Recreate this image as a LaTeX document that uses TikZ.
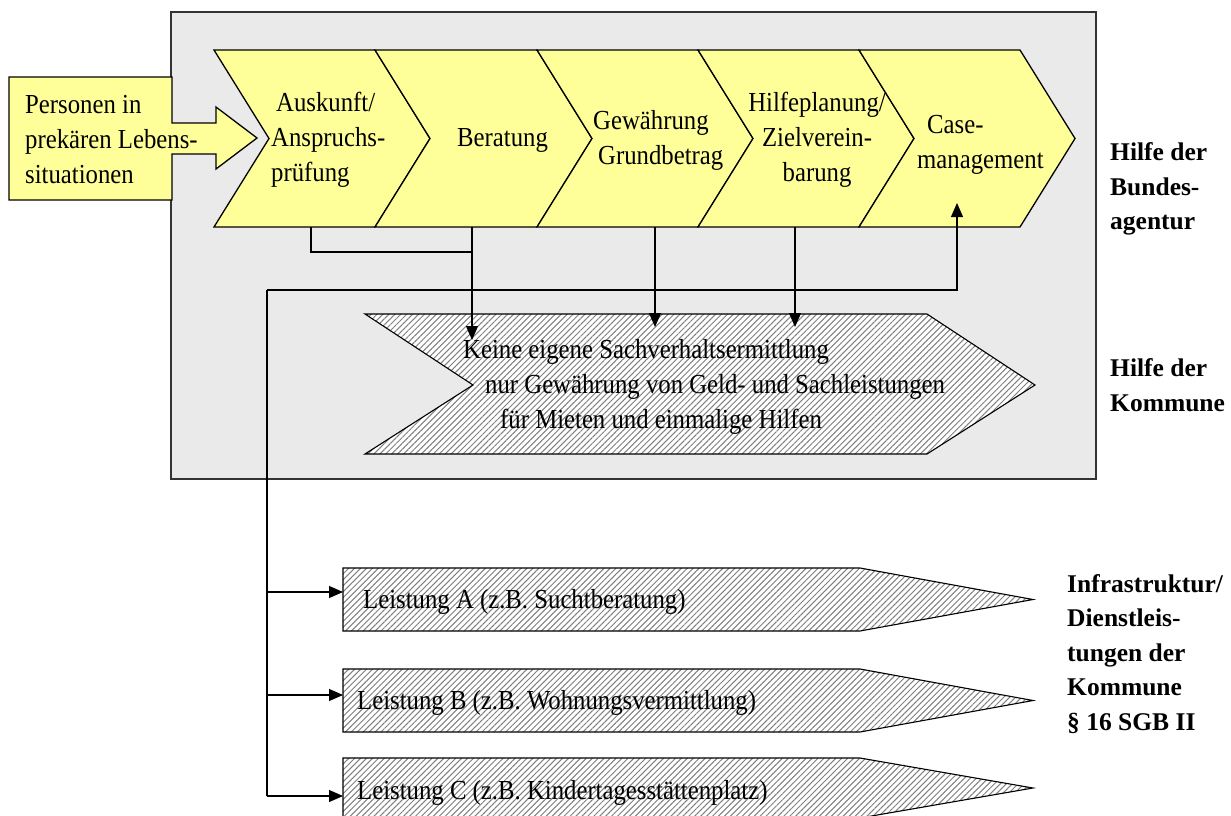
\documentclass[tikz,border=0pt]{standalone}
\usepackage{fontspec}
\setmainfont{Liberation Serif}[FakeStretch=0.9]
\newfontfamily\sidefont{Liberation Serif}
\usetikzlibrary{arrows.meta,patterns.meta}
\definecolor{boxgray}{RGB}{234,234,234}
\definecolor{chevyellow}{RGB}{255,255,153}

\begin{document}
\begin{tikzpicture}[x=1pt, y=-1pt,
    chev/.style={draw=black, line width=1.3pt, fill=chevyellow},
    hatch/.style={draw=black, line width=1.1pt, preaction={fill=white},
                  pattern={Lines[angle=45, distance=4.2pt, line width=1pt]},
                  pattern color=black!50},
    txt/.style={inner sep=0pt, align=left, anchor=west,
                font=\fontsize{27.5pt}{35pt}\selectfont},
    side/.style={inner sep=0pt, align=left, anchor=west,
                 font=\sidefont\bfseries\fontsize{25.5pt}{34.5pt}\selectfont},
    arr/.style={line width=1.1pt, -{Triangle[length=14pt, width=12pt]}},
    con/.style={line width=1.1pt}
]
    \useasboundingbox (0,0) rectangle (1231,816);

    % Rahmen Bundesagentur / Kommune
    \draw[fill=boxgray, draw=black!80, line width=1.4pt] (171,12) rectangle (1096,479);

    % Zugang
    \draw[chev] (9,77) -- (172,77) -- (172,123) -- (216,123) -- (216,107) -- (257,138)
        -- (216,169) -- (216,154) -- (172,154) -- (172,200) -- (9,200) -- cycle;
    \node[txt] (pers) at (25,140) {Personen in\\prekären Lebens-\\situationen};

    % Prozesskette
    \draw[chev] (214,50) -- (375,50) -- (430,138.5) -- (375,227) -- (214,227) -- (269,138.5) -- cycle;
    \draw[chev] (375,50) -- (537,50) -- (592,138.5) -- (537,227) -- (375,227) -- (430,138.5) -- cycle;
    \draw[chev] (537,50) -- (698,50) -- (753,138.5) -- (698,227) -- (537,227) -- (592,138.5) -- cycle;
    \draw[chev] (698,50) -- (859,50) -- (914,138.5) -- (859,227) -- (698,227) -- (753,138.5) -- cycle;
    \draw[chev] (859,50) -- (1020,50) -- (1075,138.5) -- (1020,227) -- (859,227) -- (914,138.5) -- cycle;

    \node[txt] (aus)  at (271,140) {\hspace*{5pt}Auskunft/\\Anspruchs-\\prüfung};
    \node[txt] (ber)  at (457,140) {Beratung};
    \node[txt] (gew)  at (593,140) {Gewährung\\\hspace*{5pt}Grundbetrag};
    \node[txt, anchor=center, align=center] (hilf) at (817,140) {Hilfeplanung/\\Zielverein-\\barung};
    \node[txt] (case) at (917,145) {\hspace*{10pt}Case-\\management};

    % Kommune
    \draw[hatch] (365,314) -- (927,314) -- (1035,385) -- (927,454) -- (365,454) -- (473,385) -- cycle;
    \node[txt] (keine) at (463,387) {Keine eigene Sachverhaltsermittlung\\
        \hspace*{22pt}nur Gewährung von Geld- und Sachleistungen\\
        \hspace*{37pt}für Mieten und einmalige Hilfen};

    % Leistungen
    \draw[hatch] (343,568) -- (860,568) -- (1033,599.5) -- (860,631) -- (343,631) -- cycle;
    \draw[hatch] (343,669) -- (860,669) -- (1033,700.5) -- (860,732) -- (343,732) -- cycle;
    \draw[hatch] (343,758) -- (860,758) -- (1033,788) -- (860,818) -- (343,818) -- cycle;
    \node[txt] (leiA) at (363,602) {Leistung A (z.B. Suchtberatung)};
    \node[txt] (leiB) at (357,703) {Leistung B (z.B. Wohnungsvermittlung)};
    \node[txt] (leiC) at (357,793) {Leistung C (z.B. Kindertagesstättenplatz)};

    % Beschriftung rechts
    \node[side] (lblba)  at (1110,189) {Hilfe der\\Bundes-\\agentur};
    \node[side] (lblko)  at (1110,385) {Hilfe der\\Kommune};
    \node[side] (lblinf) at (1067,654) {Infrastruktur/\\Dienstleis-\\tungen der\\Kommune\\§ 16 SGB II};

    % Verbindungen
    \coordinate (aus-b)  at (311,227);
    \coordinate (ber-b)  at (472,227);
    \coordinate (gew-b)  at (655,227);
    \coordinate (hilf-b) at (795,227);
    \coordinate (case-b) at (957,203);
    \coordinate (join)   at (472,252);
    \coordinate (keine-1) at (472,340);
    \coordinate (keine-2) at (655,327);
    \coordinate (keine-3) at (795,327);
    \coordinate (fb)     at (267,290);
    \coordinate (leiA-w) at (343,592);
    \coordinate (leiB-w) at (343,695);
    \coordinate (leiC-w) at (343,796);

    \draw[con] (aus-b) |- (join);
    \draw[arr] (ber-b) -- (keine-1);
    \draw[arr] (gew-b) -- (keine-2);
    \draw[arr] (hilf-b) -- (keine-3);
    \draw[arr] (fb) -| (case-b);
    \draw[con] (fb) -- (fb |- leiC-w);
    \draw[arr] (fb |- leiA-w) -- (leiA-w);
    \draw[arr] (fb |- leiB-w) -- (leiB-w);
    \draw[arr] (fb |- leiC-w) -- (leiC-w);
\end{tikzpicture}
\end{document}
